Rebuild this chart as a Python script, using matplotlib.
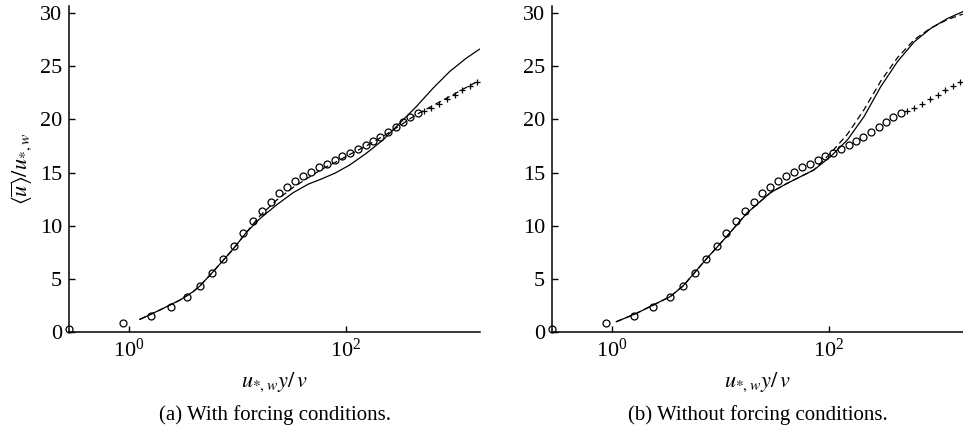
import numpy as np
import matplotlib.pyplot as plt
from matplotlib.ticker import NullLocator

plt.rcParams['font.family'] = ['Liberation Serif', 'DejaVu Serif']
plt.rcParams['mathtext.fontset'] = 'stix'

# DNS reference profile (circles), same in both panels
x_dns = [0.28, 0.885, 1.6, 2.42, 3.42, 4.5, 5.9, 7.4, 9.3, 11.4, 13.9, 16.8, 20.4, 24.5,
         29.0, 34.4, 40.7, 48.3, 56.8, 67.8, 79.2, 92.5, 110, 130, 153, 179, 209, 245,
         289, 337, 395, 464]
u_dns = [0.25, 0.82, 1.5, 2.35, 3.3, 4.36, 5.58, 6.87, 8.12, 9.34, 10.44, 11.38, 12.26,
         13.05, 13.64, 14.2, 14.7, 15.08, 15.5, 15.83, 16.18, 16.53, 16.84, 17.19, 17.56,
         17.94, 18.37, 18.79, 19.28, 19.75, 20.2, 20.57]

# log-law points (plus markers)
x_log = [524, 616, 731, 861, 1015, 1194, 1397, 1633]
u_log = [20.82, 21.1, 21.47, 21.9, 22.32, 22.74, 23.14, 23.55]

# (a) with forcing
xa = [1.26, 1.93, 2.95, 3.91, 4.51, 5.98, 9.15, 12.2, 16.1, 23.0, 32.7, 45.0, 60.0,
      80.0, 109, 155, 221, 315, 449, 640, 910, 1295, 1718]
ua_solid = [1.19, 2.07, 3.0, 3.79, 4.33, 5.67, 7.8, 9.4, 10.65, 11.95, 13.1, 13.9,
            14.4, 14.95, 15.71, 16.81, 18.06, 19.63, 21.2, 22.93, 24.49, 25.75, 26.6]
ua_dash = [1.19, 2.07, 3.0, 3.79, 4.33, 5.67, 7.8, 9.4, 10.9, 12.4, 13.6, 14.5,
           15.3, 15.95, 16.7, 17.5, 18.4, 19.4, 20.45, 21.3, 22.15, 23.0, 23.66]

# (b) without forcing
xb = [1.10, 1.69, 3.44, 4.57, 7.53, 11.5, 17.7, 29.0, 40.0, 51.3, 73.1, 104, 149, 212,
      303, 432, 617, 880, 1257, 1730]
ub_solid = [0.97, 1.76, 3.32, 4.36, 6.93, 9.0, 11.2, 13.1, 13.9, 14.46, 15.24, 16.49,
            18.06, 20.25, 23.08, 25.43, 27.3, 28.57, 29.5, 30.13]
ub_dash = [0.97, 1.76, 3.32, 4.36, 6.93, 9.0, 11.2, 13.1, 13.9, 14.46, 15.24, 16.8,
           18.6, 20.9, 23.6, 25.8, 27.5, 28.6, 29.4, 29.9]

captions = ['(a) With forcing conditions.', '(b) Without forcing conditions.']

fig = plt.figure(figsize=(9.63, 4.34), dpi=100)
axes = [fig.add_axes([0.0717, 0.235, 0.4268, 0.752]),
        fig.add_axes([0.5732, 0.235, 0.4268, 0.752])]

panels = [(xa, ua_solid, ua_dash), (xb, ub_solid, ub_dash)]

for i, (ax, (x, us, ud)) in enumerate(zip(axes, panels)):
    ax.plot(x, us, color='black', lw=0.9)
    ax.plot(x, ud, color='black', lw=0.9, ls=(0, (5, 3)))
    ax.plot(x_dns, u_dns, 'o', mfc='none', mec='black', ms=5, mew=0.9, clip_on=False)
    ax.plot(x_log, u_log, '+', color='black', ms=5, mew=0.9)

    ax.set_xscale('log')
    ax.set_xlim(0.28, 1740)
    ax.set_ylim(0, 30.7)
    ax.set_xticks([1, 100])
    ax.xaxis.set_minor_locator(NullLocator())
    ax.set_yticks([0, 5, 10, 15, 20, 25, 30])
    ax.tick_params(direction='in', length=4, width=1, labelsize=16, pad=5)
    for s in ['top', 'right']:
        ax.spines[s].set_visible(False)
    for s in ['left', 'bottom']:
        ax.spines[s].set_linewidth(1.1)
    ax.set_xlabel(r'$u_{*,w}y/\,v$', fontsize=16, labelpad=6)
    # caption below each panel
    bb = ax.get_position()
    fig.text(bb.x0 + bb.width / 2, 0.044, captions[i], ha='center', va='center',
             fontsize=15)

axes[0].set_ylabel(r'$\langle\overline{u}\rangle/u_{*,w}$', fontsize=16, labelpad=4)

fig.savefig('out.png', dpi=100)
